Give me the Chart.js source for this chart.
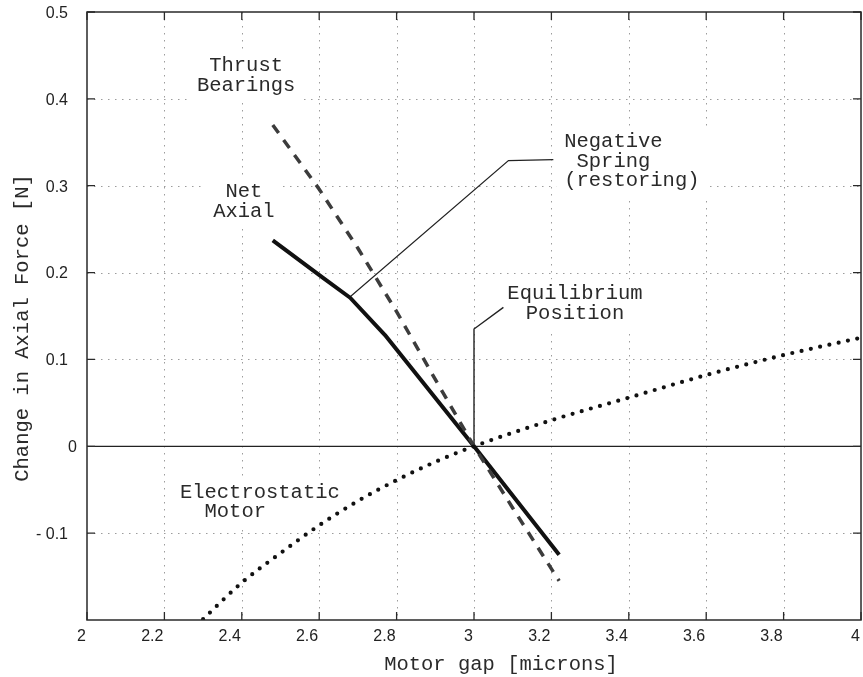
<!DOCTYPE html>
<html>
<head>
<meta charset="utf-8">
<script src="https://cdn.jsdelivr.net/npm/chart.js@4.4.1/dist/chart.umd.min.js"></script>
<style>
  html, body { margin: 0; padding: 0; background: #fff; }
  canvas { display: block; }
</style>
</head>
<body>
<canvas id="c" width="863" height="677"></canvas>
<script>
// Change in axial force [N] against motor gap [microns]
const thrustGap   = [2.48, 2.6, 2.7, 2.8, 2.9, 3.0, 3.1, 3.22];
const thrustForce = [0.370, 0.296, 0.228, 0.155, 0.077, 0.0, -0.071, -0.155];

const netGap   = [2.48, 2.61, 2.68, 2.77, 3.0, 3.22];
const netForce = [0.237, 0.194, 0.171, 0.128, 0.0, -0.125];

const motorGap   = [2.3, 2.4, 2.5, 2.6, 2.7, 2.8, 2.9, 3.0, 3.2, 3.4, 3.6, 3.8, 4.0];
const motorForce = [-0.199, -0.157, -0.123, -0.091, -0.063, -0.039, -0.018, 0.0, 0.030, 0.056, 0.082, 0.105, 0.125];

// leader lines joining the callouts to the curves
const springLeaderGap   = [2.677, 3.089, 3.205];
const springLeaderForce = [0.171, 0.329, 0.330];
const equilLeaderGap    = [3.0, 3.0, 3.076];
const equilLeaderForce  = [0.0, 0.135, 0.160];

const xTickValues = [2, 2.2, 2.4, 2.6, 2.8, 3, 3.2, 3.4, 3.6, 3.8, 4];
const xTickLabels = ['2', '2.2', '2.4', '2.6', '2.8', '3', '3.2', '3.4', '3.6', '3.8', '4'];
const yTickValues = [-0.1, 0, 0.1, 0.2, 0.3, 0.4, 0.5];
const yTickLabels = ['- 0.1', '0', '0.1', '0.2', '0.3', '0.4', '0.5'];

// callout text, anchored at the first line's baseline (data units)
const callouts = [
  { lines: [' Thrust', 'Bearings'],              gap: 2.284, force: 0.4316, align: 'left' },
  { lines: [' Net', 'Axial'],                    gap: 2.326, force: 0.2868, align: 'left' },
  { lines: ['Negative', ' Spring', '(restoring)'], gap: 3.233, force: 0.3443, align: 'left' },
  { lines: ['Equilibrium', 'Position'],          gap: 3.261, force: 0.1695, align: 'center' },
  { lines: ['Electrostatic', '  Motor'],         gap: 2.240, force: -0.0592, align: 'left' }
];

const xTitle = 'Motor gap [microns]';
const yTitle = 'Change in Axial Force [N]';

const MONO = '"Liberation Mono", "Courier New", monospace';
const SANS = '"Liberation Sans", Arial, Helvetica, sans-serif';
const MONO_SIZE = 20.5;
const LINE_H = 19.5;

const pts = (xs, ys) => xs.map((x, i) => ({ x: x, y: ys[i] }));

function calloutBox(ctx, c, x, y) {
  ctx.font = MONO_SIZE + 'px ' + MONO;
  const widths = c.lines.map(l => ctx.measureText(l).width);
  const w = Math.max.apply(null, widths);
  const px = x.getPixelForValue(c.gap);
  const py = y.getPixelForValue(c.force);
  const left = c.align === 'center' ? px - w / 2 : px;
  return { left: left, px: px, py: py, w: w, widths: widths };
}

const axesPlugin = {
  id: 'axesPlugin',
  beforeDatasetsDraw(chart) {
    const { ctx, chartArea: a, scales: { x, y } } = chart;
    ctx.save();
    // dotted grid
    ctx.strokeStyle = '#9c9c9c';
    ctx.lineWidth = 1;
    ctx.setLineDash([1.5, 5.5]);
    xTickValues.forEach(v => {
      if (v <= x.min || v >= x.max) return;
      const px = Math.round(x.getPixelForValue(v)) + 0.5;
      ctx.beginPath(); ctx.moveTo(px, a.top); ctx.lineTo(px, a.bottom); ctx.stroke();
    });
    yTickValues.forEach(v => {
      if (v === 0 || v <= y.min || v >= y.max) return;
      const py = Math.round(y.getPixelForValue(v)) + 0.5;
      ctx.beginPath(); ctx.moveTo(a.left, py); ctx.lineTo(a.right, py); ctx.stroke();
    });
    ctx.setLineDash([]);
    // zero line
    const y0 = y.getPixelForValue(0);
    ctx.strokeStyle = '#222';
    ctx.lineWidth = 1.3;
    ctx.beginPath(); ctx.moveTo(a.left, y0); ctx.lineTo(a.right, y0); ctx.stroke();
    // white backing behind callout text
    ctx.fillStyle = '#fff';
    callouts.forEach(c => {
      const b = calloutBox(ctx, c, x, y);
      const top = b.py - MONO_SIZE * 0.62 - 7;
      const bottom = b.py + LINE_H * (c.lines.length - 1) + 12;
      ctx.fillRect(b.left - 8, top, b.w + 16, bottom - top);
    });
    ctx.restore();
  },
  afterDatasetsDraw(chart) {
    const { ctx, chartArea: a, scales: { x, y } } = chart;
    ctx.save();
    // frame
    ctx.strokeStyle = '#2a2a2a';
    ctx.lineWidth = 1.5;
    ctx.strokeRect(a.left, a.top, a.right - a.left, a.bottom - a.top);
    // inward ticks on all four sides
    const tl = 8;
    ctx.lineWidth = 1.3;
    ctx.beginPath();
    xTickValues.forEach(v => {
      const px = x.getPixelForValue(v);
      ctx.moveTo(px, a.bottom); ctx.lineTo(px, a.bottom - tl);
      ctx.moveTo(px, a.top); ctx.lineTo(px, a.top + tl);
    });
    yTickValues.forEach(v => {
      const py = y.getPixelForValue(v);
      ctx.moveTo(a.left, py); ctx.lineTo(a.left + tl, py);
      ctx.moveTo(a.right, py); ctx.lineTo(a.right - tl, py);
    });
    ctx.stroke();
    // tick labels
    ctx.fillStyle = '#222';
    ctx.font = '16px ' + SANS;
    ctx.textBaseline = 'middle';
    ctx.textAlign = 'right';
    xTickValues.forEach((v, i) => {
      ctx.fillText(xTickLabels[i], x.getPixelForValue(v) - 1, a.bottom + 17);
    });
    yTickValues.forEach((v, i) => {
      const nudge = v === 0 ? 9 : 0;
      ctx.fillText(yTickLabels[i], a.left - 19 + nudge, y.getPixelForValue(v) + 1.5);
    });
    // axis titles
    ctx.font = MONO_SIZE + 'px ' + MONO;
    ctx.fillStyle = '#2a2a2a';
    ctx.textAlign = 'center';
    ctx.textBaseline = 'alphabetic';
    ctx.fillText(xTitle, (a.left + a.right) / 2 + 27, a.bottom + 50);
    ctx.save();
    ctx.translate(28, (a.top + a.bottom) / 2 + 12);
    ctx.rotate(-Math.PI / 2);
    ctx.fillText(yTitle, 0, 0);
    ctx.restore();
    // callout text
    ctx.fillStyle = '#2a2a2a';
    ctx.textAlign = 'left';
    callouts.forEach(c => {
      const b = calloutBox(ctx, c, x, y);
      c.lines.forEach((l, i) => {
        const lx = c.align === 'center' ? b.px - b.widths[i] / 2 : b.left;
        ctx.fillText(l, lx, b.py + i * LINE_H);
      });
    });
    ctx.restore();
  }
};

new Chart(document.getElementById('c'), {
  type: 'line',
  data: {
    datasets: [
      {
        label: 'Electrostatic Motor',
        data: pts(motorGap, motorForce),
        borderColor: '#111',
        borderWidth: 4.2,
        borderDash: [0, 9.5],
        borderCapStyle: 'round',
        cubicInterpolationMode: 'monotone',
        pointRadius: 0,
        fill: false
      },
      {
        label: 'Thrust Bearings',
        data: pts(thrustGap, thrustForce),
        borderColor: '#3c3c3c',
        borderWidth: 3.5,
        borderDash: [10, 8.5],
        tension: 0,
        pointRadius: 0,
        fill: false
      },
      {
        label: 'Net Axial',
        data: pts(netGap, netForce),
        borderColor: '#111',
        borderWidth: 4,
        borderJoinStyle: 'round',
        tension: 0,
        pointRadius: 0,
        fill: false
      },
      {
        label: 'Negative Spring',
        data: pts(springLeaderGap, springLeaderForce),
        borderColor: '#222',
        borderWidth: 1.2,
        tension: 0,
        pointRadius: 0,
        fill: false
      },
      {
        label: 'Equilibrium Position',
        data: pts(equilLeaderGap, equilLeaderForce),
        borderColor: '#222',
        borderWidth: 1.4,
        tension: 0,
        pointRadius: 0,
        fill: false
      }
    ]
  },
  options: {
    responsive: false,
    animation: false,
    devicePixelRatio: 1,
    events: [],
    layout: { padding: { left: 87, right: 2, top: 12, bottom: 57 } },
    plugins: { legend: { display: false }, tooltip: { enabled: false } },
    scales: {
      x: { type: 'linear', min: 2, max: 4, display: false },
      y: { type: 'linear', min: -0.2, max: 0.5, display: false }
    }
  },
  plugins: [axesPlugin]
});
</script>
</body>
</html>
